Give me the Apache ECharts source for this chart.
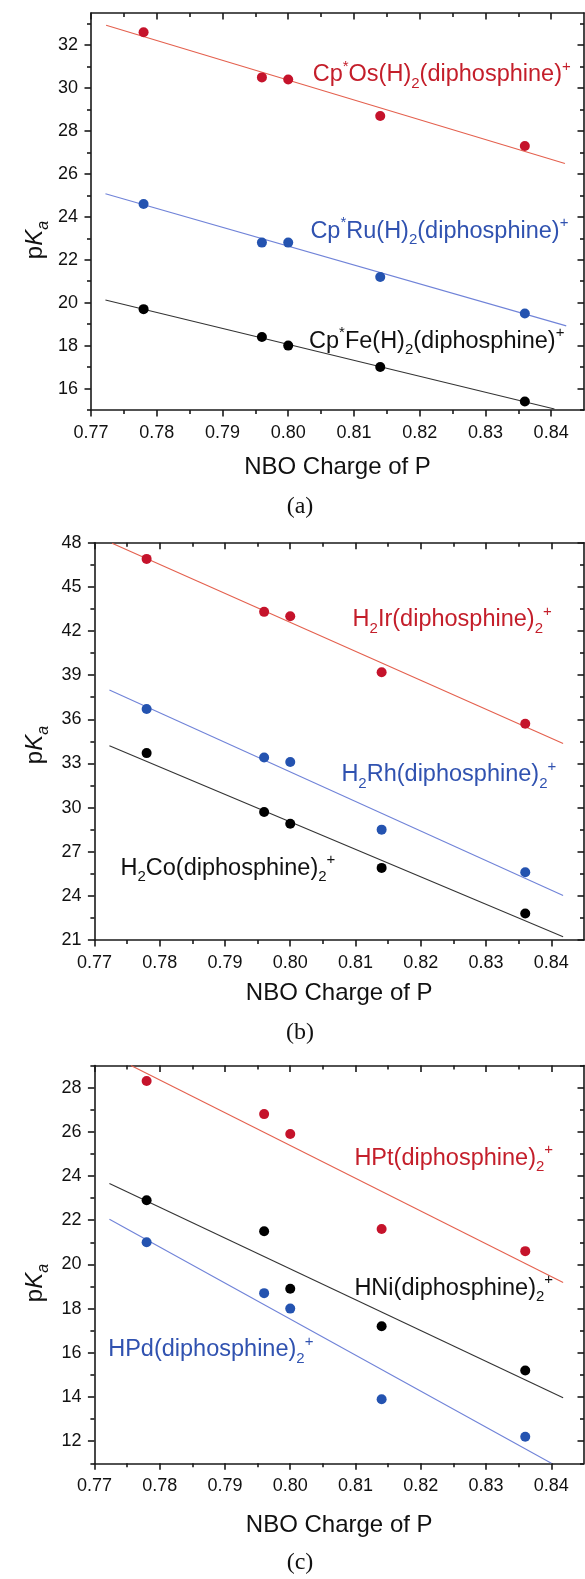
<!DOCTYPE html>
<html>
<head>
<meta charset="utf-8">
<script src="https://cdn.jsdelivr.net/npm/echarts@6/dist/echarts.min.js"></script>
<style>
  html, body { margin: 0; padding: 0; background: #ffffff; }
  #chart { width: 585px; height: 1579px; }
</style>
</head>
<body>
<div id="chart"></div>
<script>
// NBO charge on phosphorus (shared x values for every complex)
const nboCharge = [0.778, 0.796, 0.800, 0.814, 0.836];

// (a) Cp*M(H)2(diphosphine)+
const pkaOs = [32.6, 30.5, 30.4, 28.7, 27.3];
const pkaRu = [24.6, 22.8, 22.8, 21.2, 19.5];
const pkaFe = [19.7, 18.4, 18.0, 17.0, 15.4];
const fitOs = [[0.7723, 32.93], [0.8421, 26.49]];
const fitRu = [[0.7722, 25.08], [0.8423, 18.92]];
const fitFe = [[0.7722, 20.13], [0.8405, 15.05]];

// (b) H2M(diphosphine)2+
const pkaIr = [46.9, 43.3, 43.0, 39.2, 35.7];
const pkaRh = [36.7, 33.4, 33.1, 28.5, 25.6];
const pkaCo = [33.7, 29.7, 28.9, 25.9, 22.8];
const fitIr = [[0.7727, 47.96], [0.8418, 34.36]];
const fitRh = [[0.7723, 37.99], [0.8418, 24.02]];
const fitCo = [[0.7723, 34.20], [0.8418, 21.22]];

// (c) HM(diphosphine)2+
const pkaPt = [28.3, 26.8, 25.9, 21.6, 20.6];
const pkaNi = [22.9, 21.5, 18.9, 17.2, 15.2];
const pkaPd = [21.0, 18.7, 18.0, 13.9, 12.2];
const fitPt = [[0.7756, 29.00], [0.8418, 19.18]];
const fitNi = [[0.7723, 23.66], [0.8418, 13.97]];
const fitPd = [[0.7723, 22.04], [0.8400, 11.00]];

// tick values
const xMajor = [0.77, 0.78, 0.79, 0.80, 0.81, 0.82, 0.83, 0.84];
const xMinor = [0.775, 0.785, 0.795, 0.805, 0.815, 0.825, 0.835];
const yMajorA = [16, 18, 20, 22, 24, 26, 28, 30, 32];
const yMinorA = [15, 17, 19, 21, 23, 25, 27, 29, 31, 33];
const yMajorB = [21, 24, 27, 30, 33, 36, 39, 42, 45, 48];
const yMinorB = [22.5, 25.5, 28.5, 31.5, 34.5, 37.5, 40.5, 43.5, 46.5];
const yMajorC = [12, 14, 16, 18, 20, 22, 24, 26, 28];
const yMinorC = [11, 13, 15, 17, 19, 21, 23, 25, 27, 29];

const FONT = '"Liberation Sans", Arial, Helvetica, sans-serif';
const SERIF = '"Liberation Serif", "Times New Roman", serif';
const AXIS = '#1a1a1a';
const INK = '#111111';
const RED = { dot: '#c5132b', line: '#e4604e', text: '#c41e2a' };
const BLUE = { dot: '#2453b0', line: '#7083d8', text: '#3052b0' };
const BLACK = { dot: '#000000', line: '#333333', text: '#111111' };

const panels = [
  { left: 91, top: 13, width: 493, height: 397, yMin: 15, yMax: 33.5,
    yMajor: yMajorA, yMinor: yMinorA, nameGap: 45, yTitle: 240 },
  { left: 94.4, top: 542.7, width: 489.6, height: 397.3, yMin: 21, yMax: 48,
    yMajor: yMajorB, yMinor: yMinorB, nameGap: 41.5, yTitle: 745 },
  { left: 94.4, top: 1065.5, width: 489.6, height: 397.8, yMin: 11, yMax: 29,
    yMajor: yMajorC, yMinor: yMinorC, nameGap: 50, yTitle: 1283 }
];

const grid = [], xAxis = [], yAxis = [], series = [];
const lineStyle = { color: AXIS, width: 1.6 };
const MAJ = 6.5, MIN = 4;

panels.forEach((p, gi) => {
  grid.push({ left: p.left, top: p.top, width: p.width, height: p.height });
  const xBase = { gridIndex: gi, type: 'value', min: 0.77, max: 0.845, splitLine: { show: false } };
  const yBase = { gridIndex: gi, type: 'value', min: p.yMin, max: p.yMax, splitLine: { show: false } };
  p.xIdx = xAxis.length;
  xAxis.push(Object.assign({}, xBase, {
    position: 'bottom',
    axisLine: { show: true, onZero: false, lineStyle },
    axisTick: { show: true, inside: false, length: MAJ, customValues: xMajor, lineStyle },
    axisLabel: { show: true, customValues: xMajor, margin: 14, fontSize: 18, color: INK,
      fontFamily: FONT, formatter: v => v.toFixed(2) },
    name: 'NBO Charge of P', nameLocation: 'middle', nameGap: p.nameGap,
    nameTextStyle: { fontSize: 24, color: INK, fontFamily: FONT }
  }));
  xAxis.push(Object.assign({}, xBase, {
    position: 'bottom', axisLine: { show: false, onZero: false },
    axisTick: { show: true, inside: false, length: MIN, customValues: xMinor, lineStyle },
    axisLabel: { show: false }
  }));
  xAxis.push(Object.assign({}, xBase, {
    position: 'top', axisLine: { show: true, onZero: false, lineStyle },
    axisTick: { show: true, inside: true, length: MAJ, customValues: xMajor, lineStyle },
    axisLabel: { show: false }
  }));
  xAxis.push(Object.assign({}, xBase, {
    position: 'top', axisLine: { show: false, onZero: false },
    axisTick: { show: true, inside: true, length: MIN, customValues: xMinor, lineStyle },
    axisLabel: { show: false }
  }));
  p.yIdx = yAxis.length;
  yAxis.push(Object.assign({}, yBase, {
    position: 'left',
    axisLine: { show: true, onZero: false, lineStyle },
    axisTick: { show: true, inside: false, length: MAJ, customValues: p.yMajor, lineStyle },
    axisLabel: { show: true, customValues: p.yMajor, margin: 13, fontSize: 18, color: INK, fontFamily: FONT }
  }));
  yAxis.push(Object.assign({}, yBase, {
    position: 'left', axisLine: { show: false, onZero: false },
    axisTick: { show: true, inside: false, length: MIN, customValues: p.yMinor, lineStyle },
    axisLabel: { show: false }
  }));
  yAxis.push(Object.assign({}, yBase, {
    position: 'right', axisLine: { show: true, onZero: false, lineStyle },
    axisTick: { show: true, inside: true, length: MAJ, customValues: p.yMajor, lineStyle },
    axisLabel: { show: false }
  }));
  yAxis.push(Object.assign({}, yBase, {
    position: 'right', axisLine: { show: false, onZero: false },
    axisTick: { show: true, inside: true, length: MIN, customValues: p.yMinor, lineStyle },
    axisLabel: { show: false }
  }));
});

function addSet(pi, values, fit, col) {
  const p = panels[pi];
  series.push({
    type: 'line', xAxisIndex: p.xIdx, yAxisIndex: p.yIdx, data: fit,
    showSymbol: false, symbol: 'none', silent: true, z: 2,
    lineStyle: { color: col.line, width: 1.1 }
  });
  series.push({
    type: 'scatter', xAxisIndex: p.xIdx, yAxisIndex: p.yIdx,
    data: nboCharge.map((x, i) => [x, values[i]]),
    symbol: 'circle', symbolSize: 10, z: 3,
    itemStyle: { color: col.dot, opacity: 1 }
  });
}

addSet(0, pkaOs, fitOs, RED);
addSet(0, pkaRu, fitRu, BLUE);
addSet(0, pkaFe, fitFe, BLACK);
addSet(1, pkaIr, fitIr, RED);
addSet(1, pkaRh, fitRh, BLUE);
addSet(1, pkaCo, fitCo, BLACK);
addSet(2, pkaPt, fitPt, RED);
addSet(2, pkaNi, fitNi, BLACK);
addSet(2, pkaPd, fitPd, BLUE);

// rich-text styles for the complex names
const LBL = 23.5;
function rich(color) {
  return {
    n: { fontSize: LBL, lineHeight: 32, fontFamily: FONT, fill: color },
    sub: { fontSize: 15, lineHeight: 12, verticalAlign: 'bottom', fontFamily: FONT, fill: color },
    sup: { fontSize: 15, lineHeight: 12, verticalAlign: 'top', fontFamily: FONT, fill: color }
  };
}
function label(x, y, text, col) {
  return { type: 'text', x: x, y: y, z: 10, silent: true,
    style: { text: text, rich: rich(col.text), fill: col.text, font: LBL + 'px ' + FONT,
      textVerticalAlign: 'middle', verticalAlign: 'middle' } };
}
function caption(x, y, text) {
  return { type: 'text', x: x, y: y, z: 10, silent: true,
    style: { text: text, fill: INK, font: '24px ' + SERIF,
      textAlign: 'center', align: 'center', textVerticalAlign: 'middle', verticalAlign: 'middle' } };
}
function pkaTitle(x, y) {
  return { type: 'text', x: x, y: y, rotation: Math.PI / 2, z: 10, silent: true,
    style: { text: '{p|p}{k|K}{s|a}', fill: INK, font: '24px ' + FONT,
      textAlign: 'center', align: 'center', textVerticalAlign: 'middle', verticalAlign: 'middle',
      rich: {
        p: { fontSize: 24, lineHeight: 32, fontFamily: FONT, fill: INK },
        k: { fontSize: 24, lineHeight: 32, fontStyle: 'italic', fontFamily: FONT, fill: INK },
        s: { fontSize: 16, lineHeight: 12, fontStyle: 'italic', verticalAlign: 'bottom', fontFamily: FONT, fill: INK }
      } } };
}

const graphic = [
  label(312.7, 75, '{n|Cp}{sup|*}{n|Os(H)}{sub|2}{n|(diphosphine)}{sup|+}', RED),
  label(310.4, 231.7, '{n|Cp}{sup|*}{n|Ru(H)}{sub|2}{n|(diphosphine)}{sup|+}', BLUE),
  label(309, 341.7, '{n|Cp}{sup|*}{n|Fe(H)}{sub|2}{n|(diphosphine)}{sup|+}', BLACK),
  label(352.6, 620, '{n|H}{sub|2}{n|Ir(diphosphine)}{sub|2}{sup|+}', RED),
  label(341.4, 775, '{n|H}{sub|2}{n|Rh(diphosphine)}{sub|2}{sup|+}', BLUE),
  label(120.5, 868.3, '{n|H}{sub|2}{n|Co(diphosphine)}{sub|2}{sup|+}', BLACK),
  label(354.4, 1158.3, '{n|HPt(diphosphine)}{sub|2}{sup|+}', RED),
  label(354.4, 1288.3, '{n|HNi(diphosphine)}{sub|2}{sup|+}', BLACK),
  label(108.2, 1350, '{n|HPd(diphosphine)}{sub|2}{sup|+}', BLUE),
  pkaTitle(35.5, panels[0].yTitle),
  pkaTitle(35.5, panels[1].yTitle),
  pkaTitle(35.5, panels[2].yTitle),
  caption(300, 506.7, '(a)'),
  caption(300, 1033, '(b)'),
  caption(300, 1563, '(c)')
];

const chart = echarts.init(document.getElementById('chart'), null, { renderer: 'canvas' });
chart.setOption({
  animation: false,
  backgroundColor: '#ffffff',
  textStyle: { fontFamily: FONT },
  grid, xAxis, yAxis, series, graphic
});
</script>
</body>
</html>
